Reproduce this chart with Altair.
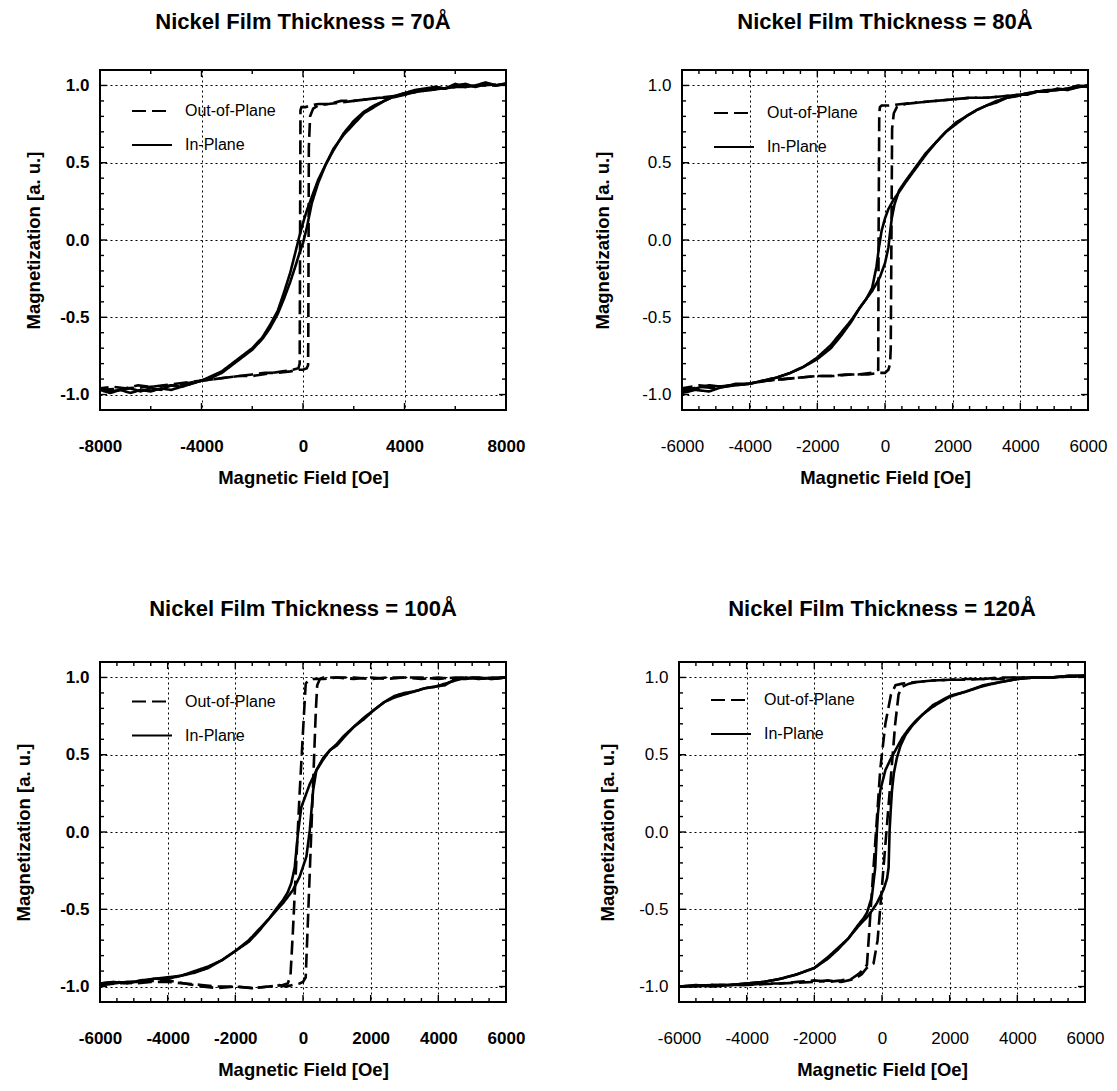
import altair as alt
import pandas as pd

FONT = "Liberation Sans"

titles = ["Nickel Film Thickness = 70Å", "Nickel Film Thickness = 80Å",
          "Nickel Film Thickness = 100Å", "Nickel Film Thickness = 120Å"]
x_title = "Magnetic Field [Oe]"
y_title = "Magnetization [a. u.]"
series_names = ["Out-of-Plane", "In-Plane"]

# ---------------- Panel 1 (70 A) ----------------
p1_ip_down_x = [8000, 7600, 7200, 6800, 6400, 6000, 5600, 5200, 4800, 4400,
                4000, 3600, 3200, 2800, 2400, 2000, 1600, 1200, 900, 600,
                350, 150, 0, -150, -300, -500, -750, -1000, -1300, -1600,
                -2000, -2400, -2800, -3200, -3600, -4000, -4400, -4800, -5200, -5600,
                -6000, -6400, -6800, -7200, -7600, -8000]
p1_ip_down_y = [1.01, 1.00, 1.02, 1.00, 0.99, 1.01, 0.98, 0.99, 0.97, 0.96,
                0.95, 0.93, 0.90, 0.87, 0.83, 0.77, 0.69, 0.58, 0.49, 0.39,
                0.28, 0.19, 0.11, 0.02, -0.08, -0.21, -0.34, -0.46, -0.55, -0.63,
                -0.70, -0.75, -0.80, -0.85, -0.88, -0.91, -0.93, -0.95, -0.94, -0.97,
                -0.96, -0.98, -0.96, -0.97, -0.99, -0.97]
p1_ip_up_x = [-8000, -7600, -7200, -6800, -6400, -6000, -5600, -5200, -4800, -4400,
              -4000, -3600, -3200, -2800, -2400, -2000, -1600, -1300, -1000, -750,
              -500, -300, -150, 0, 150, 350, 600, 900, 1200, 1600,
              2000, 2400, 2800, 3200, 3600, 4000, 4400, 4800, 5200, 5600,
              6000, 6400, 6800, 7200, 7600, 8000]
p1_ip_up_y = [-0.96, -0.98, -0.97, -0.99, -0.97, -0.98, -0.96, -0.97, -0.95, -0.93,
              -0.91, -0.89, -0.86, -0.81, -0.76, -0.71, -0.64, -0.57, -0.48, -0.38,
              -0.27, -0.17, -0.09, -0.02, 0.08, 0.24, 0.37, 0.49, 0.59, 0.68,
              0.75, 0.82, 0.86, 0.90, 0.93, 0.95, 0.97, 0.98, 0.99, 0.98,
              1.00, 1.01, 0.99, 1.01, 1.00, 1.01]
p1_op_down_x = [8000, 7500, 7000, 6500, 6000, 5500, 5000, 4500, 4000, 3500,
                3000, 2500, 2000, 1500, 1000, 600, 300, 100, -60, -100,
                -110, -130, -180, -400, -800, -1200, -1600, -2000, -2500, -3000,
                -3500, -4000, -4500, -5000, -5500, -6000, -6500, -7000, -7500, -8000]
p1_op_down_y = [1.01, 1.00, 1.00, 0.99, 0.99, 0.98, 0.97, 0.96, 0.94, 0.92,
                0.92, 0.91, 0.90, 0.90, 0.88, 0.88, 0.87, 0.86, 0.86, 0.84,
                0.30, -0.80, -0.83, -0.84, -0.85, -0.86, -0.87, -0.88, -0.88, -0.89,
                -0.90, -0.91, -0.92, -0.93, -0.94, -0.95, -0.94, -0.96, -0.95, -0.96]
p1_op_up_x = [-8000, -7000, -6000, -5000, -4000, -3000, -2000, -1500, -1000, -500,
              -200, 0, 150, 200, 210, 230, 280, 400, 600, 1000,
              1500, 2000, 2500, 3000, 3500, 4000, 4500, 5000, 6000, 7000, 8000]
p1_op_up_y = [-0.97, -0.96, -0.95, -0.94, -0.91, -0.89, -0.87, -0.86, -0.86, -0.85,
              -0.84, -0.84, -0.83, -0.81, -0.60, 0.60, 0.80, 0.85, 0.87, 0.88,
              0.89, 0.90, 0.91, 0.92, 0.93, 0.94, 0.96, 0.97, 0.99, 1.00, 1.01]

# ---------------- Panel 2 (80 A) ----------------
p2_ip_down_x = [6000, 5700, 5400, 5100, 4800, 4500, 4200, 3900, 3600, 3300,
                3000, 2700, 2400, 2100, 1800, 1500, 1200, 1000, 800, 600,
                415, 250, 100, 0, -100, -180, -250, -380, -550, -750,
                -1000, -1300, -1600, -2000, -2400, -2800, -3200, -3600, -4000, -4400,
                -4800, -5200, -5600, -6000]
p2_ip_down_y = [0.99, 1.00, 0.98, 0.97, 0.97, 0.96, 0.94, 0.94, 0.92, 0.90,
                0.87, 0.84, 0.80, 0.76, 0.70, 0.63, 0.55, 0.49, 0.43, 0.37,
                0.31, 0.26, 0.20, 0.14, 0.06, -0.05, -0.17, -0.31, -0.38, -0.44,
                -0.52, -0.60, -0.68, -0.76, -0.82, -0.86, -0.89, -0.91, -0.93, -0.93,
                -0.95, -0.94, -0.96, -0.97]
p2_ip_up_x = [-6000, -5600, -5200, -4800, -4400, -4000, -3600, -3200, -2800, -2400,
              -2000, -1600, -1300, -1000, -750, -550, -380, -250, -150, 0,
              100, 150, 200, 280, 415, 600, 800, 1000, 1200, 1500,
              1800, 2100, 2400, 2700, 3000, 3300, 3600, 3900, 4200, 4500,
              4800, 5100, 5400, 5700, 6000]
p2_ip_up_y = [-0.99, -0.97, -0.98, -0.95, -0.94, -0.93, -0.91, -0.89, -0.86, -0.82,
              -0.77, -0.70, -0.62, -0.53, -0.44, -0.38, -0.33, -0.28, -0.24, -0.15,
              -0.05, 0.05, 0.14, 0.23, 0.32, 0.38, 0.44, 0.50, 0.56, 0.63,
              0.70, 0.75, 0.80, 0.84, 0.87, 0.89, 0.92, 0.93, 0.95, 0.96,
              0.96, 0.98, 0.97, 0.99, 1.00]
p2_op_down_x = [6000, 5500, 5000, 4500, 4000, 3500, 3000, 2500, 2000, 1500,
                1000, 500, 100, -100, -150, -170, -190, -200, -400, -800,
                -1200, -1600, -2000, -2500, -3000, -3500, -4000, -4500, -5000, -5500,
                -6000]
p2_op_down_y = [1.00, 0.98, 0.97, 0.96, 0.94, 0.93, 0.92, 0.92, 0.91, 0.90,
                0.89, 0.88, 0.87, 0.87, 0.86, 0.82, 0.00, -0.84, -0.86, -0.87,
                -0.87, -0.88, -0.88, -0.89, -0.90, -0.91, -0.93, -0.94, -0.95, -0.94,
                -0.96]
p2_op_up_x = [-6000, -5500, -5000, -4500, -4000, -3500, -3000, -2500, -2000, -1500,
              -1000, -500, -200, 0, 100, 150, 170, 190, 210, 260,
              350, 600, 1000, 1500, 2000, 2500, 3000, 3500, 4000, 4500,
              5000, 5500, 6000]
p2_op_up_y = [-0.98, -0.95, -0.96, -0.94, -0.93, -0.91, -0.90, -0.89, -0.88, -0.88,
              -0.87, -0.87, -0.86, -0.86, -0.84, -0.80, -0.70, 0.00, 0.72, 0.82,
              0.86, 0.88, 0.89, 0.90, 0.91, 0.92, 0.92, 0.93, 0.94, 0.96,
              0.97, 0.98, 1.00]

# ---------------- Panel 3 (100 A) ----------------
p3_ip_down_x = [6000, 5600, 5200, 4800, 4500, 4200, 3900, 3600, 3300, 3000,
                2700, 2400, 2100, 1800, 1500, 1200, 1000, 800, 600, 400,
                200, 50, -50, -150, -245, -345, -450, -590, -800, -1000,
                -1300, -1600, -2000, -2400, -2800, -3200, -3600, -4000, -4400, -4800,
                -5200, -5600, -6000]
p3_ip_down_y = [1.00, 0.99, 1.00, 0.99, 0.99, 0.95, 0.94, 0.93, 0.91, 0.90,
                0.88, 0.84, 0.79, 0.73, 0.68, 0.61, 0.56, 0.53, 0.47, 0.40,
                0.31, 0.22, 0.16, -0.01, -0.23, -0.33, -0.39, -0.44, -0.50, -0.56,
                -0.64, -0.71, -0.77, -0.83, -0.87, -0.90, -0.93, -0.94, -0.95, -0.97,
                -0.97, -0.98, -0.99]
p3_ip_up_x = [-6000, -5600, -5200, -4800, -4400, -4000, -3600, -3200, -2800, -2400,
              -2000, -1600, -1300, -1000, -800, -590, -450, -295, -100, 100,
              200, 300, 395, 600, 800, 1000, 1200, 1500, 1800, 2100,
              2400, 2700, 3000, 3300, 3600, 3900, 4200, 4500, 4800, 5200,
              5600, 6000]
p3_ip_up_y = [-0.98, -0.97, -0.98, -0.96, -0.95, -0.95, -0.93, -0.91, -0.88, -0.83,
              -0.77, -0.70, -0.63, -0.56, -0.51, -0.46, -0.42, -0.375, -0.29, -0.16,
              0.01, 0.27, 0.40, 0.48, 0.53, 0.57, 0.62, 0.68, 0.74, 0.79,
              0.84, 0.87, 0.89, 0.91, 0.93, 0.94, 0.96, 0.98, 1.00, 0.99,
              1.00, 1.00]
p3_op_down_x = [6000, 5500, 5000, 4500, 4000, 3500, 3000, 2500, 2000, 1500,
                1000, 600, 300, 150, 80, 0, -100, -200, -300, -370,
                -450, -600, -1000, -1500, -2000, -2500, -3000, -3500, -4000, -4500,
                -5000, -5500, -6000]
p3_op_down_y = [1.00, 0.99, 1.00, 0.99, 1.00, 0.99, 1.00, 1.00, 0.99, 1.00,
                1.00, 0.99, 0.99, 0.98, 0.96, 0.65, 0.25, -0.20, -0.65, -0.93,
                -0.98, -0.99, -1.00, -1.01, -1.00, -1.00, -0.99, -0.98, -0.97, -0.97,
                -0.98, -0.97, -0.98]
p3_op_up_x = [-6000, -5000, -4000, -3500, -3000, -2500, -2000, -1500, -1000, -700,
              -500, -300, -100, 0, 80, 150, 200, 300, 380, 420,
              500, 600, 1000, 1500, 2000, 2500, 3000, 3500, 4000, 4500,
              5000, 5500, 6000]
p3_op_up_y = [-0.99, -0.97, -0.96, -0.98, -1.00, -1.01, -1.00, -1.01, -1.00, -0.99,
              -1.00, -0.99, -0.98, -0.97, -0.94, -0.55, -0.26, 0.32, 0.79, 0.95,
              0.99, 1.00, 1.00, 0.99, 1.00, 0.99, 1.00, 1.00, 0.99, 1.00,
              1.00, 0.99, 1.00]

# ---------------- Panel 4 (120 A) ----------------
p4_ip_down_x = [6000, 5500, 5000, 4500, 4000, 3500, 3000, 2500, 2000, 1500,
                1200, 1000, 800, 600, 400, 250, 100, -50, -120, -150,
                -200, -300, -440, -550, -700, -1000, -1300, -1600, -2000, -2500,
                -3000, -3500, -4000, -4500, -5000, -5500, -6000]
p4_ip_down_y = [1.01, 1.01, 1.00, 1.00, 0.99, 0.97, 0.945, 0.91, 0.875, 0.81,
                0.76, 0.72, 0.67, 0.61, 0.53, 0.47, 0.40, 0.27, 0.12, 0.01,
                -0.23, -0.42, -0.52, -0.56, -0.60, -0.69, -0.75, -0.81, -0.88, -0.92,
                -0.95, -0.97, -0.98, -0.99, -0.99, -1.00, -1.00]
p4_ip_up_x = [-6000, -5500, -5000, -4500, -4000, -3500, -3000, -2500, -2000, -1600,
              -1300, -1000, -700, -440, -300, -150, 50, 150, 195, 225,
              260, 295, 350, 440, 550, 700, 900, 1200, 1500, 2000,
              2500, 3000, 3500, 4000, 4500, 5000, 5500, 6000]
p4_ip_up_y = [-1.00, -0.99, -1.00, -0.99, -0.98, -0.97, -0.95, -0.92, -0.88, -0.82,
              -0.76, -0.69, -0.61, -0.55, -0.51, -0.46, -0.37, -0.30, -0.23, 0.01,
              0.15, 0.27, 0.38, 0.48, 0.56, 0.63, 0.69, 0.76, 0.82, 0.88,
              0.91, 0.95, 0.97, 0.99, 1.00, 1.00, 1.01, 1.01]
p4_op_down_x = [6000, 5000, 4000, 3500, 3000, 2500, 2000, 1500, 1000, 600,
                400, 265, 100, -50, -200, -300, -395, -445, -550, -700,
                -900, -1200, -1600, -2000, -2500, -3000, -3500, -4000, -4500, -5000,
                -6000]
p4_op_down_y = [1.01, 1.00, 1.00, 0.99, 0.99, 0.985, 0.985, 0.98, 0.97, 0.96,
                0.95, 0.89, 0.70, 0.41, -0.07, -0.39, -0.70, -0.86, -0.89, -0.92,
                -0.95, -0.96, -0.97, -0.96, -0.97, -0.98, -0.98, -0.99, -0.99, -0.99,
                -1.00]
p4_op_up_x = [-6000, -5000, -4000, -3000, -2000, -1600, -1200, -800, -600, -450,
              -250, -130, 0, 130, 260, 390, 490, 600, 800, 1000,
              1500, 2000, 2500, 3000, 3500, 4000, 5000, 6000]
p4_op_up_y = [-1.00, -0.99, -0.99, -0.98, -0.97, -0.96, -0.97, -0.95, -0.92, -0.88,
              -0.85, -0.70, -0.35, 0.00, 0.35, 0.70, 0.89, 0.94, 0.96, 0.97,
              0.98, 0.985, 0.99, 0.99, 1.00, 1.00, 1.00, 1.01]

# ---------------- tick / label values ----------------
x_labels_wide = [-8000, -4000, 0, 4000, 8000]
x_major_wide = [-4000, 0, 4000]
x_minor_wide = [-6000, -2000, 2000, 6000]
x_labels_narrow = [-6000, -4000, -2000, 0, 2000, 4000, 6000]
x_major_narrow = [-4000, -2000, 0, 2000, 4000]
x_minor_narrow = [-5500, -5000, -4500, -3500, -3000, -2500, -1500, -1000, -500,
                  500, 1000, 1500, 2500, 3000, 3500, 4500, 5000, 5500]
y_labels = [-1.0, -0.5, 0.0, 0.5, 1.0]
y_minor = [-0.9, -0.8, -0.7, -0.6, -0.4, -0.3, -0.2, -0.1,
           0.1, 0.2, 0.3, 0.4, 0.6, 0.7, 0.8, 0.9]

panels = [
    dict(title=titles[0], xdom=[-8000, 8000], xlab=x_labels_wide, xmaj=x_major_wide, xmin=x_minor_wide,
         data=[("In-Plane", "ip_down", p1_ip_down_x, p1_ip_down_y), ("In-Plane", "ip_up", p1_ip_up_x, p1_ip_up_y),
               ("Out-of-Plane", "op_down", p1_op_down_x, p1_op_down_y), ("Out-of-Plane", "op_up", p1_op_up_x, p1_op_up_y)],
         weight="bold", tpad=16.2, lx=31, ly=20, toff=18),
    dict(title=titles[1], xdom=[-6000, 6000], xlab=x_labels_narrow, xmaj=x_major_narrow, xmin=x_minor_narrow,
         data=[("In-Plane", "ip_down", p2_ip_down_x, p2_ip_down_y), ("In-Plane", "ip_up", p2_ip_up_x, p2_ip_up_y),
               ("Out-of-Plane", "op_down", p2_op_down_x, p2_op_down_y), ("Out-of-Plane", "op_up", p2_op_up_x, p2_op_up_y)],
         weight="normal", tpad=29.2, lx=31, ly=22, toff=18),
    dict(title=titles[2], xdom=[-6000, 6000], xlab=x_labels_narrow, xmaj=x_major_narrow, xmin=x_minor_narrow,
         data=[("In-Plane", "ip_down", p3_ip_down_x, p3_ip_down_y), ("In-Plane", "ip_up", p3_ip_up_x, p3_ip_up_y),
               ("Out-of-Plane", "op_down", p3_op_down_x, p3_op_down_y), ("Out-of-Plane", "op_up", p3_op_up_x, p3_op_up_y)],
         weight="bold", tpad=26.2, lx=31, ly=18.5, toff=23),
    dict(title=titles[3], xdom=[-6000, 6000], xlab=x_labels_narrow, xmaj=x_major_narrow, xmin=x_minor_narrow,
         data=[("In-Plane", "ip_down", p4_ip_down_x, p4_ip_down_y), ("In-Plane", "ip_up", p4_ip_up_x, p4_ip_up_y),
               ("Out-of-Plane", "op_down", p4_op_down_x, p4_op_down_y), ("Out-of-Plane", "op_up", p4_op_up_x, p4_op_up_y)],
         weight="normal", tpad=21.2, lx=31, ly=17, toff=23),
]

W, H = 406, 340
MAJOR, MINOR = 7, 4


def build(p):
    rows = []
    for series, branch, xs_, ys_ in p["data"]:
        for i, (xv, yv) in enumerate(zip(xs_, ys_)):
            rows.append(dict(x=xv, y=yv, series=series, branch=branch, i=i))
    df = pd.DataFrame(rows)
    xs = alt.Scale(domain=p["xdom"], nice=False, zero=False)
    ys = alt.Scale(domain=[-1.1, 1.1], nice=False, zero=False)

    x_axis = alt.Axis(orient="bottom", values=p["xlab"], ticks=False, domain=False, grid=True,
                      gridColor="black", gridDash=[2, 3], gridWidth=1, gridOpacity=1,
                      labelFont=FONT, labelFontSize=17, labelFontWeight=p["weight"], labelColor="black",
                      labelPadding=28, labelFlush=False,
                      labelExpr="(datum.value < 0 ? '-' : '') + format(abs(datum.value), 'd')",
                      title=x_title, titleFont=FONT, titleFontSize=18.5, titleFontWeight="bold",
                      titleColor="black", titlePadding=14)
    y_axis = alt.Axis(orient="left", values=y_labels, ticks=False, domain=False, grid=True,
                      gridColor="black", gridDash=[2, 3], gridWidth=1, gridOpacity=1,
                      labelFont=FONT, labelFontSize=17, labelFontWeight=p["weight"], labelColor="black",
                      labelPadding=11, labelFlush=False,
                      labelExpr="(datum.value < 0 ? '-' : '') + format(abs(datum.value), '.1f')",
                      title=y_title, titleFont=FONT, titleFontSize=18.5, titleFontWeight="bold",
                      titleColor="black", titlePadding=p["tpad"])

    legend = alt.Legend(title=None, orient="none", legendX=p["lx"], legendY=p["ly"],
                        symbolType="stroke", symbolSize=1600, symbolStrokeWidth=2,
                        symbolStrokeColor="black", labelFont=FONT, labelFontSize=16,
                        labelColor="black", labelOffset=12, rowPadding=5, padding=0)

    main = alt.Chart(df).mark_line(color="black", strokeWidth=2.6, clip=True).encode(
        x=alt.X("x:Q", scale=xs, axis=x_axis),
        y=alt.Y("y:Q", scale=ys, axis=y_axis),
        strokeDash=alt.StrokeDash("series:N",
                                  scale=alt.Scale(domain=series_names, range=[[14, 6], [1, 0]]),
                                  legend=legend),
        detail="branch:N",
        order="i:Q",
    )

    # inward tick marks on all four sides of the frame
    def xticks(vals, y0, y1):
        return alt.Chart(pd.DataFrame({"v": vals})).mark_rule(color="black", strokeWidth=1.4).encode(
            x=alt.X("v:Q", scale=xs, axis=x_axis), y=alt.value(y0), y2=alt.value(y1))

    def yticks(vals, x0, x1):
        return alt.Chart(pd.DataFrame({"v": vals})).mark_rule(color="black", strokeWidth=1.4).encode(
            y=alt.Y("v:Q", scale=ys, axis=y_axis), x=alt.value(x0), x2=alt.value(x1))

    layers = [
        main,
        xticks(p["xmaj"], 0, MAJOR), xticks(p["xmin"], 0, MINOR),
        xticks(p["xmaj"], H, H - MAJOR), xticks(p["xmin"], H, H - MINOR),
        yticks(y_labels, 0, MAJOR), yticks(y_minor, 0, MINOR),
        yticks(y_labels, W, W - MAJOR), yticks(y_minor, W, W - MINOR),
    ]
    return alt.layer(*layers).properties(
        width=W, height=H,
        title=alt.TitleParams(text=p["title"], font=FONT, fontSize=22, fontWeight="bold",
                              color="black", anchor="middle", offset=p["toff"], baseline="alphabetic"),
    )


c1, c2, c3, c4 = [build(p) for p in panels]
row1 = alt.hconcat(c1, c2, spacing=66).resolve_scale(strokeDash="independent").resolve_legend(strokeDash="independent")
row2 = alt.hconcat(c3, c4, spacing=71).resolve_scale(strokeDash="independent").resolve_legend(strokeDash="independent")
chart = alt.vconcat(row1, row2, spacing=109).resolve_scale(strokeDash="independent").resolve_legend(
    strokeDash="independent"
).properties(
    padding={"left": 5, "top": 2, "right": 0, "bottom": 0}
).configure_view(stroke="black", strokeWidth=2)

chart.save("out.html", embed_options={"renderer": "svg", "actions": False})
